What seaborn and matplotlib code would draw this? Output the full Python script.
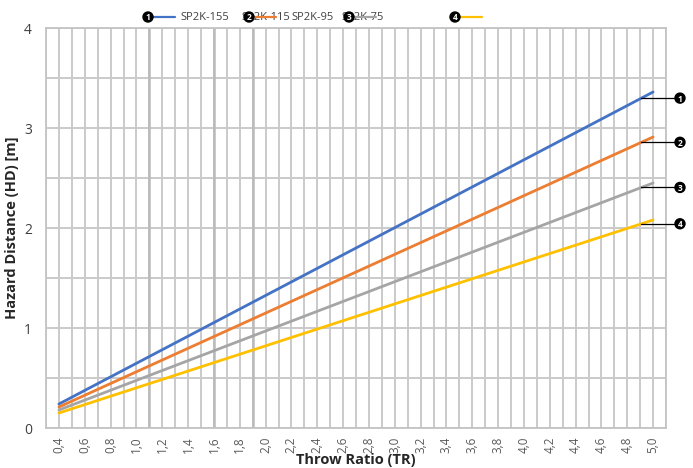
import numpy as np
import pandas as pd
import matplotlib
matplotlib.use("Agg")
import matplotlib.pyplot as plt
import seaborn as sns
from matplotlib.patches import Circle

# ---- data ----
throw_ratio = [0.4, 5.0]
hd_155 = [0.24, 3.36]
hd_115 = [0.21, 2.91]
hd_95 = [0.18, 2.45]
hd_75 = [0.15, 2.08]
series_names = ["SP2K-155", "SP2K-115", "SP2K-95", "SP2K-75"]
series_numbers = ["1", "2", "3", "4"]
colors = ["#4472C4", "#ED7D31", "#A5A5A5", "#FFC000"]
x_ticks = [round(0.4 + 0.2 * i, 1) for i in range(24)]
y_ticks = [0, 1, 2, 3, 4]

df = pd.DataFrame({
    "TR": throw_ratio * 4,
    "HD": hd_155 + hd_115 + hd_95 + hd_75,
    "series": sum([[n] * len(throw_ratio) for n in series_names], []),
})

sns.set_style("white")
plt.rcParams["font.family"] = ["Open Sans", "DejaVu Sans"]

fig = plt.figure(figsize=(6.93, 4.68), dpi=100)
ax = fig.add_axes([46 / 693, 40 / 468, (666 - 46) / 693, (428 - 28) / 468])

sns.lineplot(data=df, x="TR", y="HD", hue="series", palette=colors,
             linewidth=2.0, legend=False, ax=ax, zorder=3)

ax.set_xlim(0.3, 5.1)
ax.set_ylim(0, 4)
ax.set_xticks(x_ticks)
ax.set_xticklabels([f"{t:.1f}".replace(".", ",") for t in x_ticks],
                   rotation=90, fontsize=8.5, color="#595959")
ax.set_xticks([round(0.3 + 0.1 * i, 1) for i in range(49)], minor=True)
ax.set_yticks(y_ticks)
ax.set_yticklabels([str(v) for v in y_ticks], fontsize=10, color="#404040")
ax.set_yticks([0.5, 1.5, 2.5, 3.5], minor=True)
ax.grid(True, which="both", color="#cacaca", linewidth=1.4, zorder=0)
ax.set_axisbelow(True)
for xv in [1.1, 1.6, 1.9]:
    ax.axvline(xv, color="#bababa", linewidth=1.8, zorder=1)
ax.tick_params(axis="x", which="major", length=4, color="#bfbfbf", pad=2)
ax.tick_params(axis="y", which="major", length=4, color="#bfbfbf", pad=6)
ax.tick_params(which="minor", length=0)
for s in ax.spines.values():
    s.set_color("#c4c4c4")
    s.set_linewidth(1.3)

ax.set_xlabel("Throw Ratio (TR)", fontsize=10.5, fontweight="bold", labelpad=0)
ax.set_ylabel("Hazard Distance (HD) [m]", fontsize=10.5, fontweight="bold", labelpad=4)


def badge(xp, yd, num, r=5.0):
    # xp, yd in display pixels (origin bottom-left)
    c = Circle((xp, yd), r, transform=None, facecolor="black", edgecolor="black",
               zorder=10, clip_on=False)
    fig.patches.append(c)
    fig.text(xp / 693, yd / 468, num, ha="center", va="center_baseline",
             fontsize=6, color="white", fontweight="bold", zorder=11)


# ---- right callouts ----
end_vals = [hd_155, hd_115, hd_95, hd_75]
x_lead = 4.91
for vals, num in zip(end_vals, series_numbers):
    yv = vals[0] + (vals[1] - vals[0]) * (x_lead - throw_ratio[0]) / (throw_ratio[1] - throw_ratio[0])
    xd, yd = ax.transData.transform((x_lead, yv))
    fig.lines.append(plt.Line2D([xd, 676], [yd, yd], transform=None, color="black",
                                linewidth=0.9, zorder=9))
    badge(680, yd, num)

# ---- top legend ----
leg_y = 468 - 17
text_x = [180, 241, 291, 341]
for tx, name in zip(text_x, series_names):
    fig.text(tx / 693, leg_y / 468, name, fontsize=8, color="#404040",
             ha="left", va="center")
badge_x = [148, 249, 349, 455]
for bx, col, num in zip(badge_x, colors, series_numbers):
    fig.lines.append(plt.Line2D([bx + 4, bx + 27], [leg_y, leg_y],
                                transform=None, color=col, linewidth=1.6, zorder=9))
    badge(bx, leg_y, num)

fig.savefig("out.png", dpi=100)
